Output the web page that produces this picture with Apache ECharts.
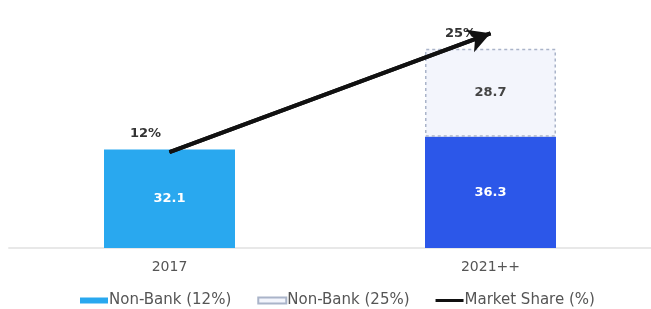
<!DOCTYPE html>
<html>
<head>
<meta charset="utf-8">
<script src="https://cdn.jsdelivr.net/npm/echarts@6/dist/echarts.min.js"></script>
<style>
  html, body { margin: 0; padding: 0; background: #fff; }
  #main { width: 651px; height: 309px; }
</style>
</head>
<body>
<div id="main"></div>
<script>
// 数据
var categories = ["2017", "2021++"];
var nonBankBase = [32.1, 36.3];      // 实色柱
var nonBankExtra = ["-", 28.7];      // 虚线框部分
var marketShare = [12, 25];          // 市场份额 %
var baseColors = ["#29a8ef", "#2c57e9"];

var font = "DejaVu Sans, Liberation Sans, sans-serif";

var chart = echarts.init(document.getElementById("main"));

// 折线标签的偏移（左上）
var shareLabelOffsets = [[-2, -18], [-8, 0]];

var option = {
  animation: false,
  textStyle: { fontFamily: font },
  grid: { left: 9, right: 0, top: 15, bottom: 61, containLabel: false },
  legend: {
    top: 288,
    left: 75,
    itemWidth: 28,
    itemHeight: 6,
    itemGap: 26,
    textStyle: { color: "#555", fontSize: 15, padding: [0, 0, 0, -4] },
    data: [
      { name: "Non-Bank (12%)", icon: "rect" },
      { name: "Non-Bank (25%)", icon: "rect" },
      { name: "Market Share (%)", icon: "path://M0,0 L28,0 L28,3 L0,3 Z" }
    ]
  },
  xAxis: {
    type: "category",
    data: categories,
    axisTick: { show: false },
    axisLine: { lineStyle: { color: "#e8e8e8", width: 2 } },
    axisLabel: { color: "#555", fontSize: 14, margin: 12 }
  },
  yAxis: [
    { type: "value", min: 0, max: 76, show: false },
    { type: "value", min: 1.5, max: 27, show: false }
  ],
  series: [
    {
      name: "Non-Bank (12%)",
      type: "bar",
      stack: "nb",
      barWidth: 131,
      itemStyle: { color: baseColors[0] },
      data: nonBankBase.map(function (v, i) {
        return { value: v, itemStyle: { color: baseColors[i] } };
      }),
      label: {
        show: true,
        position: "inside",
        color: "#fff",
        fontWeight: "bold",
        fontSize: 13
      }
    },
    {
      name: "Non-Bank (25%)",
      type: "bar",
      stack: "nb",
      barWidth: 131,
      itemStyle: {
        color: "#f3f5fc",
        borderColor: "#aab4c9",
        borderWidth: 1.5,
        borderType: [3, 3]
      },
      data: nonBankExtra,
      label: {
        show: true,
        position: "inside",
        color: "#444",
        fontWeight: "bold",
        fontSize: 13
      }
    },
    {
      name: "Market Share (%)",
      type: "line",
      yAxisIndex: 1,
      symbol: "circle",
      symbolSize: 1,
      showSymbol: true,
      color: "#111",
      lineStyle: { color: "#111", width: 4 },
      label: {
        show: true,
        position: "left",
        distance: 6,
        formatter: "{c}%",
        color: "#333",
        fontWeight: "bold",
        fontSize: 13
      },
      data: marketShare.map(function (v, i) {
        return { value: v, label: { offset: shareLabelOffsets[i] } };
      }),
      markLine: {
        silent: true,
        symbol: ["none", "arrow"],
        symbolSize: [18, 22],
        label: { show: false },
        lineStyle: { color: "#111", width: 4, type: "solid" },
        data: [[
          { coord: [categories[0], marketShare[0]] },
          { coord: [categories[1], marketShare[1]] }
        ]]
      }
    }
  ]
};

chart.setOption(option);
</script>
</body>
</html>
